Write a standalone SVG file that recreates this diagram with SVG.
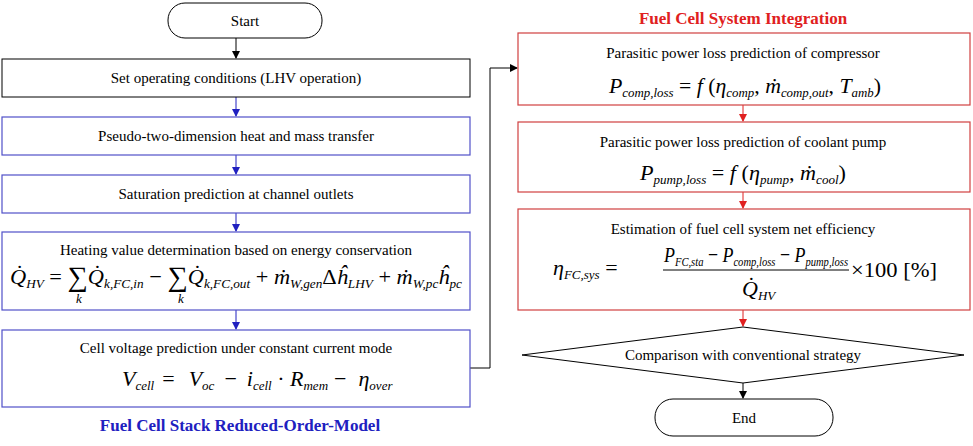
<svg xmlns="http://www.w3.org/2000/svg" width="973" height="446" viewBox="0 0 973 446" font-family="'Liberation Serif', Tinos, 'DejaVu Serif', serif">
<style>
text{fill:#000;font-family:"Liberation Serif",Tinos,"DejaVu Serif",serif}
.t{font-size:15px;text-anchor:middle}
.m{font-size:22px;font-style:italic}
.n{font-style:normal}
.s{font-size:13px}
.bk{fill:#fff;stroke:#000;stroke-width:1}
.bl{fill:#fff;stroke:#5050c8;stroke-width:1.2}
.rd{fill:#fff;stroke:#d04040;stroke-width:1.2}
.c{fill:none;stroke-width:1}
</style>
<defs>
<marker id="ak" markerWidth="8" markerHeight="8" refX="7" refY="4" orient="auto" markerUnits="userSpaceOnUse"><path d="M0,0 L8,4 L0,8z" fill="#000"/></marker>
<marker id="ab" markerWidth="8" markerHeight="8" refX="7" refY="4" orient="auto" markerUnits="userSpaceOnUse"><path d="M0,0 L8,4 L0,8z" fill="#2020c0"/></marker>
<marker id="ar" markerWidth="8" markerHeight="8" refX="7" refY="4" orient="auto" markerUnits="userSpaceOnUse"><path d="M0,0 L8,4 L0,8z" fill="#e02020"/></marker>
</defs>
<rect width="973" height="446" fill="#fff"/>
<g id="connectors">
<line class="c" stroke="#000" x1="236" y1="38" x2="236" y2="58" marker-end="url(#ak)"/>
<line class="c" stroke="#2020c0" x1="236" y1="97" x2="236" y2="116" marker-end="url(#ab)"/>
<line class="c" stroke="#2020c0" x1="236" y1="155" x2="236" y2="174" marker-end="url(#ab)"/>
<line class="c" stroke="#2020c0" x1="236" y1="213" x2="236" y2="231" marker-end="url(#ab)"/>
<line class="c" stroke="#2020c0" x1="236" y1="310" x2="236" y2="329" marker-end="url(#ab)"/>
<polyline class="c" stroke="#000" points="470,368 490,368 490,68 517,68" marker-end="url(#ak)"/>
<line class="c" stroke="#e02020" x1="743" y1="105" x2="743" y2="121" marker-end="url(#ar)"/>
<line class="c" stroke="#e02020" x1="743" y1="192" x2="743" y2="208" marker-end="url(#ar)"/>
<line class="c" stroke="#e02020" x1="743" y1="310" x2="743" y2="326" marker-end="url(#ar)"/>
<line class="c" stroke="#000" x1="743" y1="383" x2="743" y2="398" marker-end="url(#ak)"/>
</g>
<g id="start"><rect class="bk" x="168" y="3" width="154" height="35" rx="17"/><text class="t" x="245" y="26">Start</text></g>
<g id="b1"><rect class="bk" x="2" y="59" width="468" height="38"/><text class="t" x="236" y="83">Set operating conditions (LHV operation)</text></g>
<g id="b2"><rect class="bl" x="2" y="117" width="468" height="38"/><text class="t" x="236" y="141">Pseudo-two-dimension heat and mass transfer</text></g>
<g id="b3"><rect class="bl" x="2" y="175" width="468" height="38"/><text class="t" x="236" y="199">Saturation prediction at channel outlets</text></g>
<g id="b4"><rect class="bl" x="2" y="232" width="468" height="78"/><text class="t" x="236" y="255">Heating value determination based on energy conservation</text>
<text class="m" x="10" y="284" textLength="452" lengthAdjust="spacingAndGlyphs">Q̇<tspan class="s" dy="4">HV</tspan><tspan class="n" dy="-4"> = </tspan><tspan class="n" font-size="28" dy="2">∑</tspan><tspan dy="-2">Q̇</tspan><tspan class="s" dy="4">k,FC,in</tspan><tspan class="n" dy="-4"> − </tspan><tspan class="n" font-size="28" dy="2">∑</tspan><tspan dy="-2">Q̇</tspan><tspan class="s" dy="4">k,FC,out</tspan><tspan class="n" dy="-4"> + </tspan>ṁ<tspan class="s" dy="4">W,gen</tspan><tspan class="n" dy="-4">Δ</tspan>ĥ<tspan class="s" dy="4">LHV</tspan><tspan class="n" dy="-4"> + </tspan>ṁ<tspan class="s" dy="4">W,pc</tspan><tspan dy="-4">ĥ</tspan><tspan class="s" dy="4">pc</tspan></text>
<text class="m s" x="76" y="303">k</text><text class="m s" x="178" y="303">k</text></g>
<g id="b5"><rect class="bl" x="2" y="330" width="468" height="77"/><text class="t" x="236" y="353">Cell voltage prediction under constant current mode</text>
<text class="m" x="122" y="386">V<tspan class="s" dy="4">cell</tspan><tspan class="n" dy="-4" dx="8">=</tspan><tspan dx="14">V</tspan><tspan class="s" dy="4">oc</tspan><tspan class="n" dy="-4" dx="10">−</tspan><tspan dx="10">i</tspan><tspan class="s" dy="4">cell</tspan><tspan class="n" dy="-4"> · </tspan>R<tspan class="s" dy="4">mem</tspan><tspan class="n" dy="-4" dx="6">−</tspan><tspan dx="12">η</tspan><tspan class="s" dy="4">over</tspan></text></g>
<text x="240" y="431" style="font-size:17px;font-weight:bold;fill:#2020c0;text-anchor:middle">Fuel Cell Stack Reduced-Order-Model</text>
<text x="743" y="24" style="font-size:17px;font-weight:bold;fill:#e02020;text-anchor:middle">Fuel Cell System Integration</text>
<g id="r1"><rect class="rd" x="518" y="33" width="452" height="72"/><text class="t" x="743" y="58">Parasitic power loss prediction of compressor</text>
<text class="m" x="609" y="93" textLength="272" lengthAdjust="spacingAndGlyphs">P<tspan class="s" dy="4">comp,loss</tspan><tspan class="n" dy="-4"> = </tspan>f<tspan class="n"> (</tspan>η<tspan class="s" dy="4">comp</tspan><tspan class="n" dy="-4">, </tspan>ṁ<tspan class="s" dy="4">comp,out</tspan><tspan class="n" dy="-4">, </tspan>T<tspan class="s" dy="4">amb</tspan><tspan class="n" dy="-4">)</tspan></text></g>
<g id="r2"><rect class="rd" x="518" y="122" width="452" height="70"/><text class="t" x="743" y="147">Parasitic power loss prediction of coolant pump</text>
<text class="m" x="640" y="180" textLength="206" lengthAdjust="spacingAndGlyphs">P<tspan class="s" dy="4">pump,loss</tspan><tspan class="n" dy="-4"> = </tspan>f<tspan class="n"> (</tspan>η<tspan class="s" dy="4">pump</tspan><tspan class="n" dy="-4">, </tspan>ṁ<tspan class="s" dy="4">cool</tspan><tspan class="n" dy="-4">)</tspan></text></g>
<g id="r3"><rect class="rd" x="518" y="209" width="452" height="101"/><text class="t" x="743" y="234">Estimation of fuel cell system net efficiency</text>
<text class="m" x="553" y="275">η<tspan class="s" dy="4">FC,sys</tspan><tspan class="n" dy="-4"> = </tspan></text>
<text class="m" x="664" y="262" textLength="184" lengthAdjust="spacingAndGlyphs">P<tspan class="s" dy="4">FC,sta</tspan><tspan class="n" dy="-4"> − </tspan>P<tspan class="s" dy="4">comp,loss</tspan><tspan class="n" dy="-4"> − </tspan>P<tspan class="s" dy="4">pump,loss</tspan></text>
<line x1="663" y1="270" x2="849" y2="270" stroke="#000" stroke-width="1"/>
<text class="m" x="742" y="296">Q̇<tspan class="s" dy="4">HV</tspan></text>
<text class="m n" x="851" y="277" textLength="86" lengthAdjust="spacingAndGlyphs">×100 [%]</text></g>
<g id="d1"><polygon class="bk" points="743,327 964,355 743,383 522,355"/><text class="t" x="743" y="360">Comparison with conventional strategy</text></g>
<g id="end"><rect class="bk" x="655" y="399" width="178" height="37" rx="18"/><text class="t" x="744" y="423">End</text></g>
</svg>
